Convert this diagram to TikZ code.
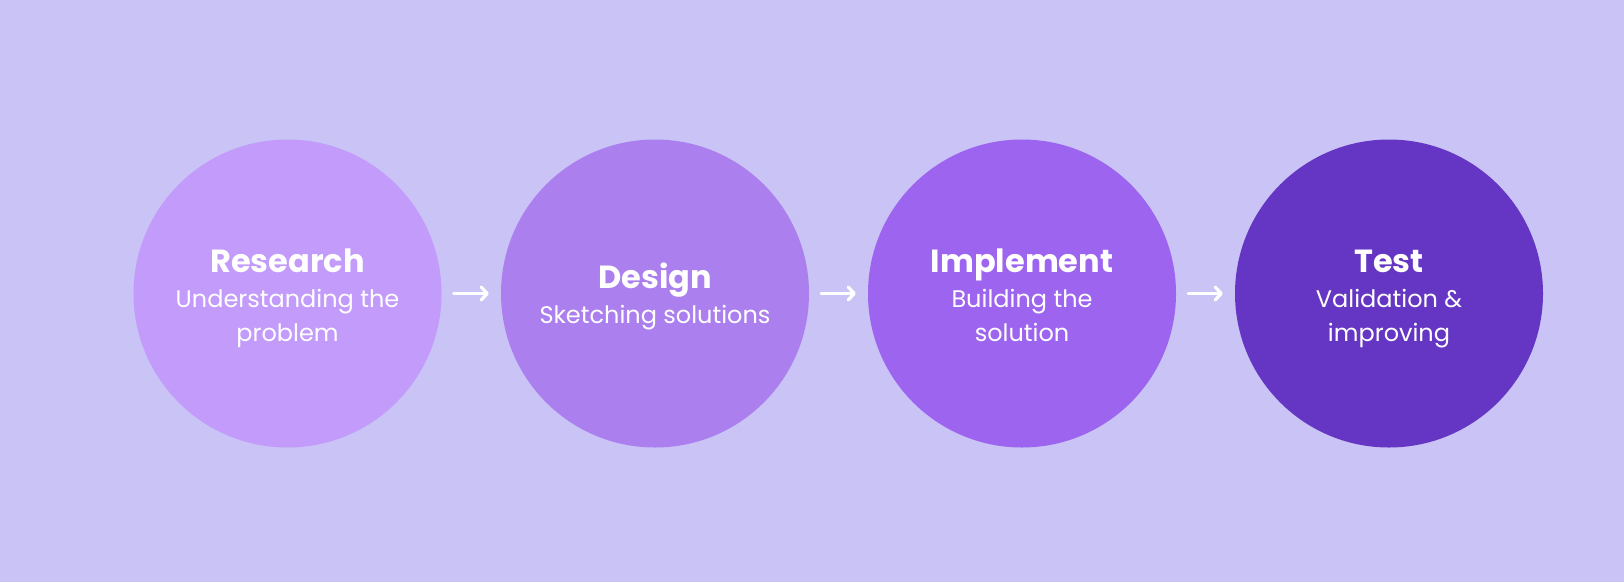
\documentclass[tikz,border=0pt]{standalone}
\usepackage{fontspec}
\setmainfont{Poppins}
\usetikzlibrary{arrows.meta}
\definecolor{bg}{HTML}{CAC3F5}
\definecolor{stepA}{HTML}{C29BFB}
\definecolor{stepB}{HTML}{AC7FEF}
\definecolor{stepC}{HTML}{9C64EF}
\definecolor{stepD}{HTML}{6436C3}
\begin{document}
\begin{tikzpicture}[x=1pt,y=-1pt,
  stage/.style={circle,minimum size=308pt,inner sep=0pt,draw=none},
  title/.style={anchor=base,text=white,font=\fontsize{32}{36}\selectfont\bfseries,inner sep=0pt},
  sub/.style={anchor=base,text=white,font=\fontsize{24}{28}\selectfont,inner sep=0pt},
  flow/.style={draw=white,line width=3.2pt,line cap=round,shorten <=12pt,shorten >=12pt,
    -{Straight Barb[length=6pt,width=13pt,line cap=round,line join=round]}}]
  \fill[bg] (0,0) rectangle (1624,582);
  \useasboundingbox (0,0) rectangle (1624,582);

  % the four stages
  \node[stage,fill=stepA] (c1) at (287.5,293.5) {};
  \node[stage,fill=stepB] (c2) at (655,293.5) {};
  \node[stage,fill=stepC] (c3) at (1022,293.5) {};
  \node[stage,fill=stepD] (c4) at (1389,293.5) {};

  % labels
  \node[title] (t1) at (287.5,272.7) {Research};
  \node[sub] (s1a) at (287.5,307.7) {Understanding the};
  \node[sub] (s1b) at (287.5,341) {problem};

  \node[title] (t2) at (655,288) {Design};
  \node[sub] (s2a) at (655,323) {Sketching solutions};

  \node[title] (t3) at (1022,272.7) {Implement};
  \node[sub] (s3a) at (1022,307.7) {Building the};
  \node[sub] (s3b) at (1022,341) {solution};

  \node[title] (t4) at (1389,272.7) {Test};
  \node[sub] (s4a) at (1389,307.7) {Validation \&};
  \node[sub] (s4b) at (1389,341) {improving};

  % connectors
  \draw[flow] (c1) -- (c2);
  \draw[flow] (c2) -- (c3);
  \draw[flow] (c3) -- (c4);
\end{tikzpicture}
\end{document}
